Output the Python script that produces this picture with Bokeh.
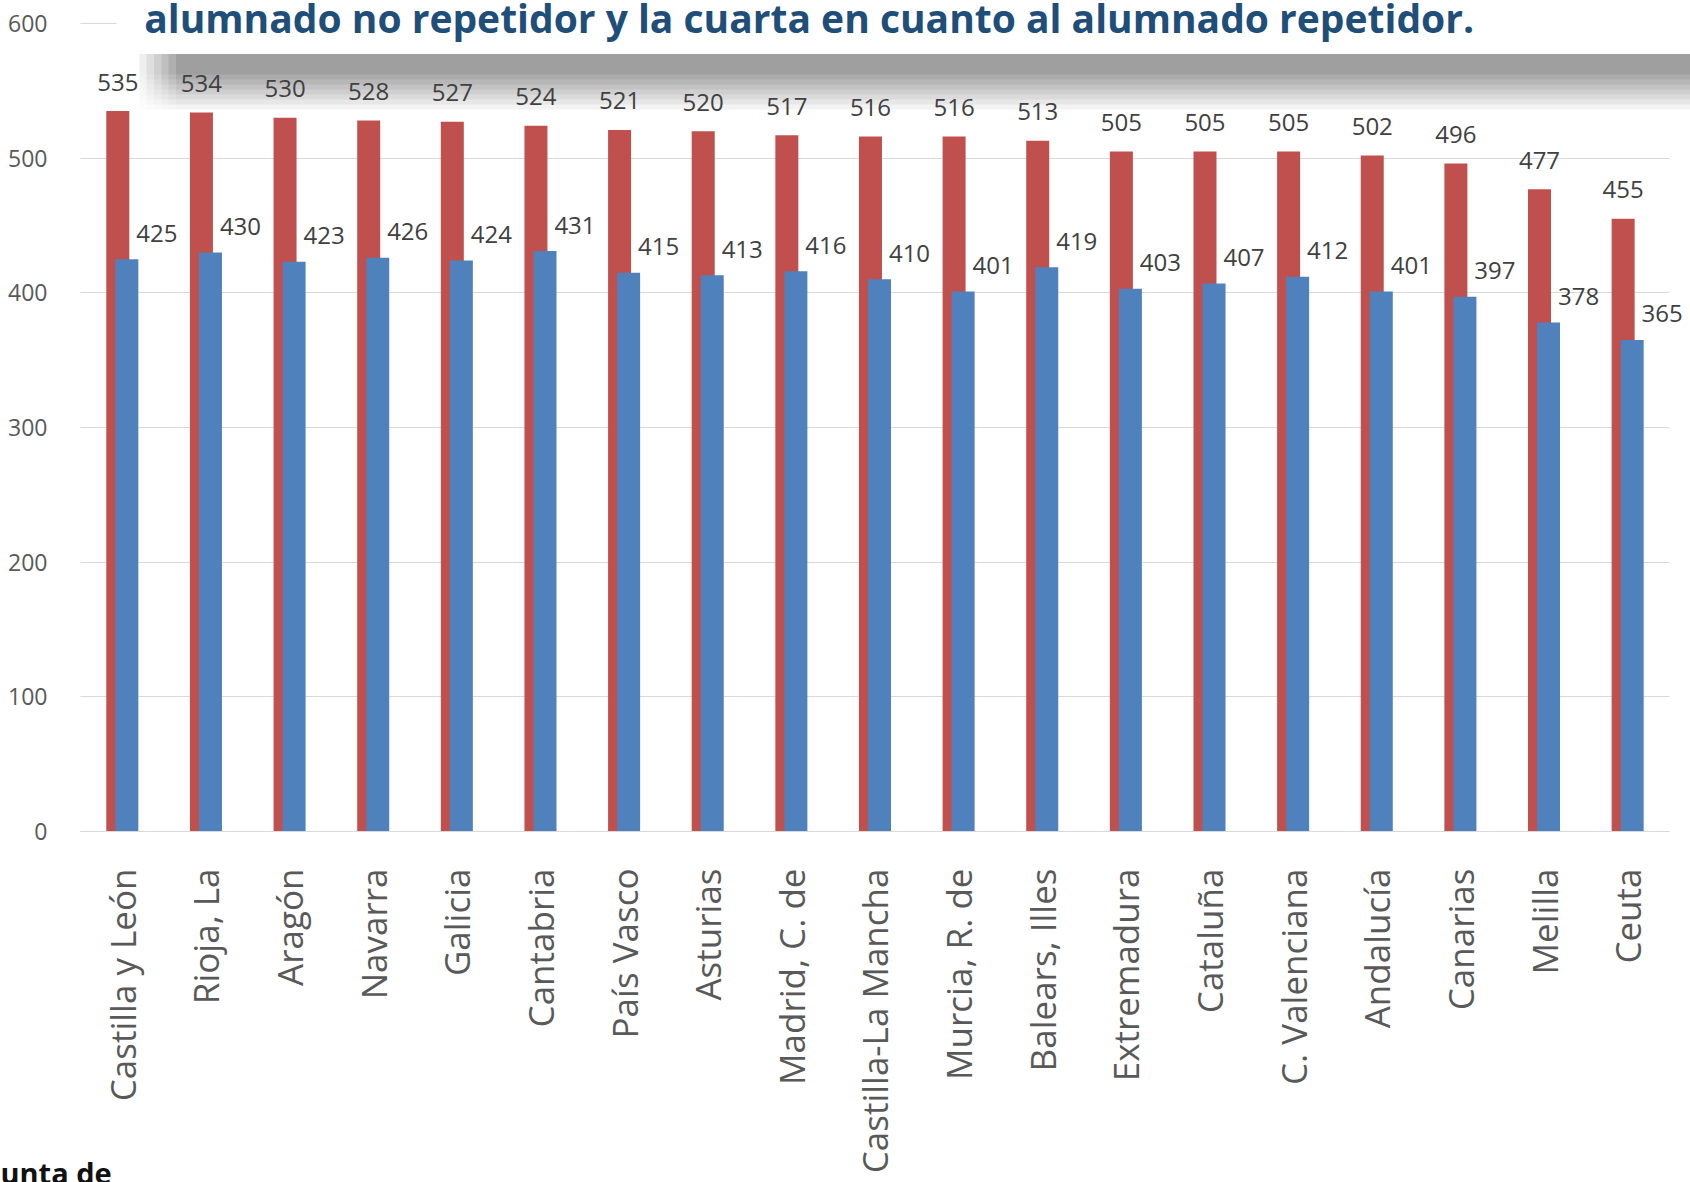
import numpy as np
from bokeh.plotting import figure
from bokeh.models import (ColumnDataSource, LabelSet, Label, BoxAnnotation,
                          FixedTicker, Range1d)
from bokeh.core.properties import value
from bokeh.embed import file_html
from bokeh.resources import INLINE

# ---- data ----
regions = ["Castilla y León", "Rioja, La", "Aragón", "Navarra", "Galicia",
           "Cantabria", "País Vasco", "Asturias", "Madrid, C. de",
           "Castilla-La Mancha", "Murcia, R. de", "Balears, Illes",
           "Extremadura", "Cataluña", "C. Valenciana", "Andalucía",
           "Canarias", "Melilla", "Ceuta"]
no_repetidor = [535, 534, 530, 528, 527, 524, 521, 520, 517, 516, 516, 513,
                505, 505, 505, 502, 496, 477, 455]
repetidor = [425, 430, 423, 426, 424, 431, 415, 413, 416, 410, 401, 419,
             403, 407, 412, 401, 397, 378, 365]
y_ticks = [0, 100, 200, 300, 400, 500, 600]
title_text = "alumnado no repetidor y la cuarta en cuanto al alumnado repetidor."
footer_text = "unta de"

RED = "#C0504D"
BLUE = "#4F81BD"
FONT = "Open Sans"
DODGE = 0.054

idx = list(range(len(regions)))
src = ColumnDataSource(dict(
    x_red=[i - DODGE for i in idx],
    x_blue=[i + DODGE for i in idx],
    red=no_repetidor,
    blue=repetidor,
    red_txt=[str(v) for v in no_repetidor],
    blue_txt=[str(v) for v in repetidor],
))

p = figure(x_range=Range1d(-1.4566, 18.7515), y_range=Range1d(-260.65, 617.08),
           width=1690, height=1182, output_backend="svg",
           toolbar_location=None, min_border_left=0, min_border_right=0,
           min_border_top=0, min_border_bottom=0)
p.outline_line_color = None
p.background_fill_color = "white"
p.border_fill_color = "white"

p.vbar(x="x_red", top="red", width=0.275, source=src,
       fill_color=RED, line_color=None)
p.vbar(x="x_blue", top="blue", width=0.275, source=src,
       fill_color=BLUE, line_color=None)

# axes
p.yaxis.fixed_location = -0.5
p.yaxis.ticker = FixedTicker(ticks=y_ticks)
p.yaxis.axis_line_color = None
p.yaxis.major_tick_line_color = None
p.yaxis.minor_tick_line_color = None
p.yaxis.major_label_text_font = FONT
p.yaxis.major_label_text_font_size = "23px"
p.yaxis.major_label_text_color = "#595959"
p.yaxis.major_label_standoff = 27

p.xaxis.fixed_location = 0
p.xaxis.ticker = FixedTicker(ticks=idx)
p.xaxis.major_label_overrides = {i: name for i, name in zip(idx, regions)}
p.xaxis.bounds = (-0.5, len(regions) - 0.5)
p.xaxis.axis_line_color = "#d9d9d9"
p.xaxis.major_tick_line_color = None
p.xaxis.minor_tick_line_color = None
p.xaxis.major_label_orientation = np.pi / 2
p.xaxis.major_label_text_font = FONT
p.xaxis.major_label_text_font_size = "35px"
p.xaxis.major_label_text_color = "#595959"
p.xaxis.major_label_standoff = 31

p.xgrid.grid_line_color = None
p.ygrid.grid_line_color = "#d9d9d9"
p.ygrid.grid_line_width = 1

# keep gridlines within the category area (drawn under axes and bars)
p.add_layout(BoxAnnotation(left=len(regions) - 0.5, right=30, bottom=-5,
                           top=700, fill_color="white", fill_alpha=1.0,
                           line_color=None, level="underlay"))
p.add_layout(BoxAnnotation(left=-5, right=-0.5, bottom=-5, top=700,
                           fill_color="white", fill_alpha=1.0,
                           line_color=None, level="underlay"))
# title box (white) hiding the top gridline
p.add_layout(BoxAnnotation(left=-0.0695, right=30, bottom=577.5, top=700,
                           fill_color="white", fill_alpha=1.0,
                           line_color=None))

# soft shadow under the title box
lefts = np.linspace(0.20, 0.64, 6)
bottoms = np.linspace(562.0, 536.0, 8)
n_layers = len(lefts) * len(bottoms)
a_each = 1 - (1 - 0.33) ** (1.0 / n_layers)
for lf in lefts:
    for bt in bottoms:
        p.add_layout(BoxAnnotation(left=float(lf), right=30, bottom=float(bt),
                                   top=577.5, fill_color="black",
                                   fill_alpha=float(a_each), line_color=None))

# data labels
p.add_layout(LabelSet(x="x_red", y="red", text="red_txt", source=src,
                      y_offset=29, text_align="center",
                      text_baseline="middle", text_font=value(FONT),
                      text_font_size=value("24px"), text_color="#404040"))
p.add_layout(LabelSet(x="x_blue", y="blue", text="blue_txt", source=src,
                      x_offset=30, y_offset=26, text_align="center",
                      text_baseline="middle", text_font=value(FONT),
                      text_font_size=value("24px"), text_color="#404040"))

# slide title overlapping the chart
p.add_layout(Label(x=0.262, y=604.5, text=title_text, text_font=FONT,
                   text_font_size="39px", text_font_style="bold",
                   text_color="#1F4E79", text_baseline="alphabetic",
                   text_align="left"))
# cut-off footer text at bottom left
p.add_layout(Label(x=-1.4566, y=-253.2, text=footer_text, text_font=FONT,
                   text_font_size="29px", text_font_style="bold",
                   text_color="#111111", text_baseline="alphabetic",
                   text_align="left"))

open("out.html", "w").write(file_html(p, INLINE))
